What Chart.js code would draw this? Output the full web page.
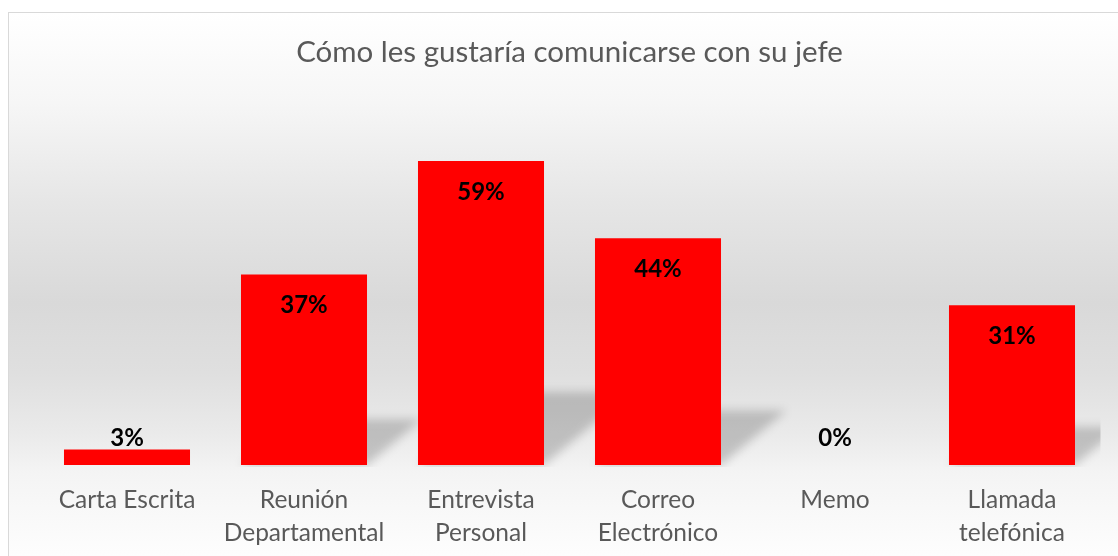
<!DOCTYPE html>
<html>
<head>
<meta charset="utf-8">
<script src="https://cdn.jsdelivr.net/npm/chart.js@4.4.1/dist/chart.umd.min.js"></script>
<style>
  html, body { margin: 0; padding: 0; background: #ffffff; overflow: hidden; }
  #wrap { position: relative; width: 1118px; height: 556px; }
  #bg {
    position: absolute; left: 8px; top: 12px; width: 1130px; height: 560px;
    border: 1px solid #d9d9d9; box-sizing: border-box;
    background: linear-gradient(to bottom, #ffffff 0px, #f6f6f6 90px, #e6e6e6 190px, #d9d9d9 290px, #dfdfdf 360px, #eaeaea 420px, #f4f4f4 460px, #fcfcfc 530px, #ffffff 560px);
  }
  #c { position: absolute; left: 0; top: 0; }
</style>
</head>
<body>
<div id="wrap">
  <div id="bg"></div>
  <canvas id="c" width="1118" height="556"></canvas>
</div>
<script>
const titleText = 'Cómo les gustaría comunicarse con su jefe';
const categories = [
  'Carta Escrita',
  ['Reunión', 'Departamental'],
  ['Entrevista', 'Personal'],
  ['Correo', 'Electrónico'],
  'Memo',
  ['Llamada', 'telefónica']
];
const values = [3, 37, 59, 44, 0, 31];
const valueLabels = ['3%', '37%', '59%', '44%', '0%', '31%'];

const FONT = "Lato, 'Open Sans', sans-serif";

const shadowPlugin = {
  id: 'barShadow',
  beforeDatasetsDraw(chart) {
    const ctx = chart.ctx;
    const area = chart.chartArea;
    const meta = chart.getDatasetMeta(0);
    ctx.save();
    ctx.beginPath();
    ctx.rect(area.left, area.top, area.right - area.left, area.bottom - area.top + 2);
    ctx.clip();
    ctx.filter = 'blur(5px)';
    ctx.fillStyle = 'rgba(0,0,0,0.19)';
    meta.data.forEach(bar => {
      const p = bar.getProps(['x', 'y', 'base', 'width'], true);
      const hBar = p.base - p.y;
      if (hBar < 20) return;
      const h = hBar * 0.24;
      const d = h * 1.2;
      const L = p.x - p.width / 2, R = p.x + p.width / 2;
      ctx.beginPath();
      ctx.moveTo(L, p.base);
      ctx.lineTo(R, p.base);
      ctx.lineTo(R + d, p.base - h);
      ctx.lineTo(L + d, p.base - h);
      ctx.closePath();
      ctx.fill();
    });
    ctx.restore();
  }
};

const labelPlugin = {
  id: 'valueLabels',
  afterDatasetsDraw(chart) {
    const ctx = chart.ctx;
    const meta = chart.getDatasetMeta(0);
    ctx.save();
    ctx.font = "bold 24px " + FONT;
    ctx.fillStyle = '#000000';
    ctx.textAlign = 'center';
    ctx.textBaseline = 'middle';
    meta.data.forEach((bar, i) => {
      const p = bar.getProps(['x', 'y', 'base'], true);
      const hBar = p.base - p.y;
      let cy;
      if (hBar > 50) {
        cy = p.y + 31;
      } else {
        cy = Math.min(p.y - 11, p.base - 27);
      }
      ctx.fillText(valueLabels[i], p.x, cy);
    });
    ctx.restore();
  }
};

new Chart(document.getElementById('c'), {
  type: 'bar',
  data: {
    labels: categories,
    datasets: [{
      data: values,
      backgroundColor: '#ff0000',
      borderWidth: 0,
      barPercentage: 0.712,
      categoryPercentage: 1.0
    }]
  },
  options: {
    responsive: false,
    animation: false,
    layout: { padding: { left: 38.5, right: 17.5, top: 0, bottom: 0 } },
    plugins: {
      legend: { display: false },
      tooltip: { enabled: false },
      title: {
        display: true,
        text: titleText,
        color: '#595959',
        font: { family: FONT, size: 29.5, weight: 'normal', lineHeight: 1.2 },
        padding: { top: 35, bottom: 34 }
      }
    },
    scales: {
      x: {
        grid: { display: false },
        border: { display: false },
        afterFit(scale) { scale.height = 91; },
        ticks: {
          color: '#595959',
          font: { family: FONT, size: 24.5, lineHeight: 1.347 },
          padding: 11,
          maxRotation: 0,
          minRotation: 0,
          autoSkip: false
        }
      },
      y: {
        display: false,
        min: 0,
        max: 70
      }
    }
  },
  plugins: [shadowPlugin, labelPlugin]
});
</script>
</body>
</html>
